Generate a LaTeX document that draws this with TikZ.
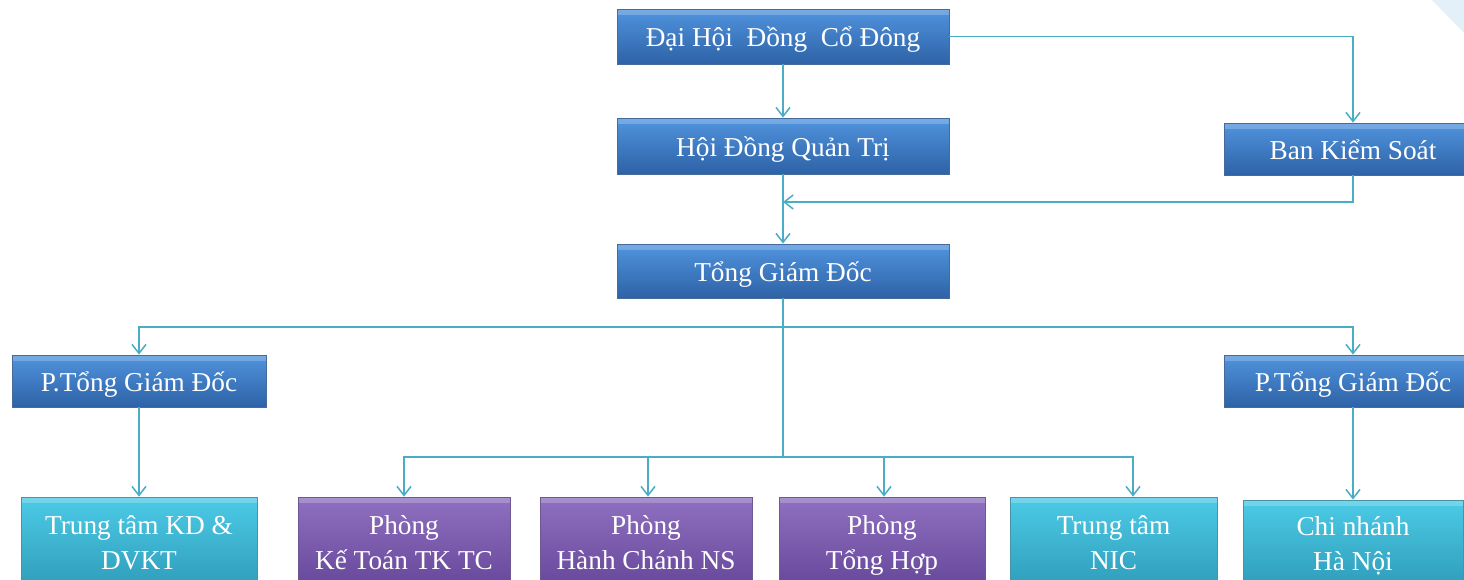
\documentclass[tikz,border=0pt]{standalone}
\usepackage{fontspec}
\setmainfont{Liberation Serif}
\usetikzlibrary{arrows.meta}
\definecolor{conn}{HTML}{4BACC6}
\definecolor{bluetop}{HTML}{5094DE}
\definecolor{bluebot}{HTML}{2E62A6}
\definecolor{purtop}{HTML}{9070C0}
\definecolor{purbot}{HTML}{66479A}
\definecolor{cyantop}{HTML}{4CCBE6}
\definecolor{cyanbot}{HTML}{2F9DBB}
\definecolor{tri}{HTML}{E3F0FA}
\newcommand\mystrut{\rule[-7.5pt]{0pt}{35pt}}
\tikzset{
  box/.style={rectangle, text=white, align=center, inner sep=2pt,
    font=\fontsize{27.3}{35}\selectfont,
    path picture={\fill[white,opacity=0.22] (path picture bounding box.north west) rectangle ([yshift=-6pt]path picture bounding box.north east);}},
  bluebox/.style={box, top color=bluetop, bottom color=bluebot, draw=bluebot!70!gray, line width=0.8pt},
  purbox/.style={box, top color=purtop, bottom color=purbot, draw=purbot!70!gray, line width=0.8pt},
  cyanbox/.style={box, top color=cyantop, bottom color=cyanbot, draw=cyanbot!70!gray, line width=0.8pt},
  link/.style={draw=conn, line width=1.8pt},
  arr/.style={link, -{Straight Barb[length=9pt,width=14pt,line width=1.5pt]}}
}
\begin{document}
\begin{tikzpicture}[x=1pt,y=-1pt]
\useasboundingbox (0,0) rectangle (1464,579);
\clip (0,0) rectangle (1464,579);
\fill[white] (0,0) rectangle (1464,579);
\fill[tri] (1432,0) -- (1464,0) -- (1464,33) -- cycle;

% nodes
\node[bluebox, minimum width=332pt, minimum height=55pt] (dh) at (783,36.5) {\mystrut Đại Hội\ \ Đồng\ \ Cổ Đông};
\node[bluebox, minimum width=332pt, minimum height=56pt] (hd) at (783,146) {\mystrut Hội Đồng Quản Trị};
\node[bluebox, minimum width=258pt, minimum height=52pt] (bks) at (1353,149) {\mystrut Ban Kiểm Soát};
\node[bluebox, minimum width=332pt, minimum height=54pt] (tgd) at (783,271) {\mystrut Tổng Giám Đốc};
\node[bluebox, minimum width=254pt, minimum height=52pt] (ptl) at (139,381) {\mystrut P.Tổng Giám Đốc};
\node[bluebox, minimum width=258pt, minimum height=52pt] (ptr) at (1353,381) {\mystrut P.Tổng Giám Đốc};

\node[cyanbox, minimum width=236pt, minimum height=90pt] (kd) at (139,542) {Trung tâm KD \&\mystrut\\DVKT\mystrut};
\node[purbox, minimum width=212pt, minimum height=90pt] (kt) at (404,542) {Phòng\mystrut\\Kế Toán TK TC\mystrut};
\node[purbox, minimum width=212pt, minimum height=90pt] (hc) at (646,542) {Phòng\mystrut\\Hành Chánh NS\mystrut};
\node[purbox, minimum width=206pt, minimum height=90pt] (th) at (882,542) {Phòng\mystrut\\Tổng Hợp\mystrut};
\node[cyanbox, minimum width=207pt, minimum height=90pt] (nic) at (1113.5,542) {Trung tâm\mystrut\\NIC\mystrut};
\node[cyanbox, minimum width=220pt, minimum height=86pt] (cn) at (1353,543) {Chi nhánh\mystrut\\Hà Nội\mystrut};

% junctions
\coordinate (j1) at (783,202);
\coordinate (h1) at (783,327);
\coordinate (h2) at (783,457);

% connectors
\draw[arr] (dh.east) -| (bks.north);
\draw[arr] (dh.south) -- (hd.north);
\draw[arr] (hd.south) -- (tgd.north);
\draw[arr] (bks.south) |- (j1);
\draw[link] (tgd.south) -- (h2);
\draw[arr] (h1) -| (ptl.north);
\draw[arr] (h1) -| (ptr.north);
\draw[arr] (ptl.south) -- (kd.north);
\draw[arr] (ptr.south) -- (cn.north);
\draw[arr] (h2) -| (kt.north);
\draw[arr] (h2) -| ([xshift=2pt]hc.north);
\draw[arr] (h2) -| ([xshift=2pt]th.north);
\draw[arr] (h2) -| ([xshift=19.5pt]nic.north);
\end{tikzpicture}
\end{document}
